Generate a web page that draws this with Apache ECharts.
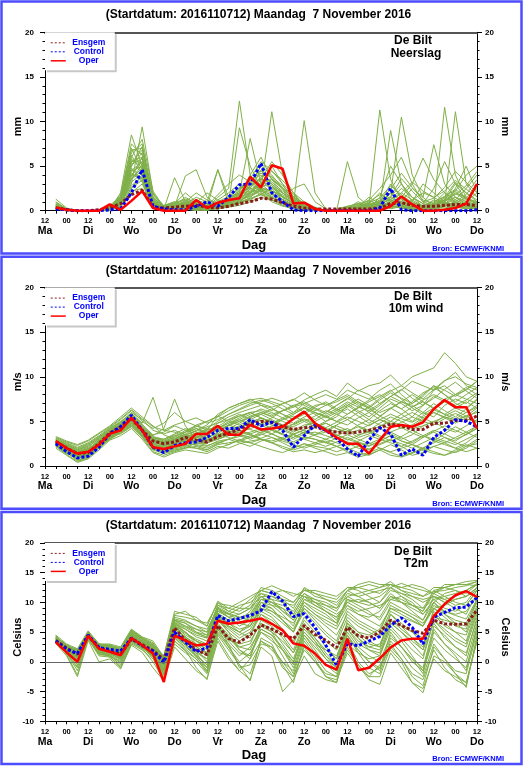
<!DOCTYPE html>
<html><head><meta charset="utf-8">
<script src="https://cdn.jsdelivr.net/npm/echarts@6/dist/echarts.min.js"></script>
<style>html,body{margin:0;padding:0;background:#fff}#c{width:526px;height:767px}</style>
</head><body><div id="c"></div>
<script>
// forecast hours after 2016-11-07 12 UTC
const HOURS = [6,12,18,24,30,36,42,48,54,60,66,72,78,84,90,96,102,108,114,120,126,132,138,144,150,156,162,168,174,180,186,192,198,204,210,216,222,228,234,240];
const DAY_NAMES = ['Ma','Di','Wo','Do','Vr','Za','Zo','Ma','Di','Wo','Do'];
const HOUR_LABELS = ['12','00'];
const TITLE = '(Startdatum: 2016110712) Maandag  7 November 2016';
const STATION = 'De Bilt';
const SOURCE = 'Bron: ECMWF/KNMI';
const X_NAME = 'Dag';
const LEGEND_NAMES = ['Ensgem','Control','Oper'];

// ---- Neerslag (mm) ----
const PRECIP_OPER    = [0.35,0.1,0,0,0,0.7,0.1,1.1,2.2,0.3, 0,0,0,1.2,0.3,0.9,1.2,1.4,3.8,2.6, 5.1,4.7,0.8,0.9,0.2,0,0,0,0,0, 0,0.5,1.6,0.7,0,0,0.1,0.3,0.8,3.0];
const PRECIP_CONTROL = [0.2,0.1,0,0,0,0.1,0.2,2.0,4.6,0.5, 0.2,0.1,0.1,0.5,1.0,0.5,1.5,2.9,3.0,5.3, 2.0,1.0,0.1,0,0,0,0,0,0,0, 0.3,2.5,0.1,0,0,0,0,0,0,0.1];
const PRECIP_ENSGEM  = [0.3,0.1,0,0,0.1,0.3,0.8,1.8,2.3,0.4, 0.3,0.4,0.5,0.6,0.4,0.3,0.5,0.8,1.0,1.4, 1.3,0.9,0.5,0.3,0.2,0.2,0.2,0.2,0.2,0.2, 0.3,0.8,0.9,0.6,0.5,0.5,0.6,0.7,0.7,0.6];
const PRECIP_MEMBERS = [
[0.3,0.1,0,0,0,0.4,1.5,5.5,6.0,1.0, 0.2,0.3,1.0,0.5,0.2,0.8,1.5,2.5,3.0,2.2, 1.5,0.8,0.3,0.2,0.1,0,0,0.2,0,0, 0.3,1.0,2.0,1.2,0.5,0.3,0.8,1.5,0.6,0.4],
[0.8,0.2,0,0,0.1,0.2,2.0,8.5,5.0,0.5, 0.1,0.2,0.3,0.1,0,0.5,1.0,1.8,4.0,6.0, 3.5,2.0,1.0,0.5,0,0,0,0,0.5,1.5, 0.8,0.2,0.5,1.0,3.0,2.0,1.0,0.5,0.2,0.5],
[0.2,0,0,0,0,0.1,0.8,3.0,9.4,2.0, 0.3,0.1,0.5,1.2,0.8,0.3,0.5,1.0,2.0,3.5, 5.5,4.0,2.0,0.5,0.2,0,0,0,0,0, 0.5,2.0,1.0,0.2,0,0,0.5,2.5,5.0,2.0],
[1.3,0.3,0,0,0,0.3,1.2,4.5,5.5,1.5, 0.5,0.8,2.0,1.0,0.5,1.2,2.0,3.0,2.5,1.8, 1.2,0.6,0.2,0.1,0,0,0.1,0.3,0.1,0, 0,0.5,1.5,3.0,5.9,3.5,2.0,1.0,0.5,0.8],
[0.5,0.1,0,0,0,0.5,1.0,6.5,7.5,1.2, 0.2,0.3,0.2,0,0.3,1.5,2.5,12.3,4.0,2.0, 1.0,0.5,0.3,0.2,0,0,0,0,0,0.3, 1.0,0.6,0.3,0.1,0,0.2,0.5,0.8,1.5,2.5],
[0.2,0,0,0,0,0,0.5,2.5,4.0,0.8, 0.2,0.5,3.9,4.6,1.5,0.6,0.4,1.2,2.5,4.5, 3.0,1.6,0.8,0.5,0.2,0,0,0.3,1.0,0.5, 0.2,1.2,2.5,1.5,0.8,0.5,1.5,3.2,2.0,1.0],
[0.6,0.2,0,0,0,0.2,1.8,7.0,4.5,0.6, 0.1,0.4,0.8,0.5,0.2,0.4,0.8,9.3,5.0,2.5, 11.1,4.0,1.5,0.5,0.1,0,0,0,0,0, 0.5,1.5,3.0,1.5,0.5,0.2,0.5,1.0,0.5,0.3],
[0.3,0.1,0,0,0,0.3,1.2,5.0,6.5,1.8, 0.6,1.0,0.5,0.2,0.1,0.3,0.5,0.8,1.5,2.5, 3.5,2.5,1.0,0.4,0.1,0,0.2,0.5,0.8,0.5, 11.3,3.5,1.2,0.5,0.2,0.8,2.0,1.2,0.6,0.4],
[0.4,0.1,0,0,0,0.1,0.6,3.5,4.5,0.5, 0.2,3.7,1.0,0.3,0.2,0.5,1.2,2.0,8.1,3.0, 2.0,1.0,0.5,0.2,0,0,0,0,0.2,0.5, 0.8,2.0,10.5,4.0,1.5,0.5,0.3,0.5,1.0,2.0],
[0.2,0,0,0,0,0.2,0.9,4.0,5.5,1.0, 0.1,0.2,0.3,0.5,1.0,4.6,0.8,1.5,2.0,2.5, 2.2,1.5,0.8,10.1,2.0,0.2,0,0,0,0, 0.3,0.8,0.5,0.2,0.1,0.5,1.0,2.0,1.5,0.8],
[1.0,0.2,0,0,0.1,0.6,1.6,6.0,8.0,2.2, 0.4,0.6,0.8,1.5,1.0,0.6,1.0,1.5,3.0,5.0, 4.0,2.5,1.5,0.6,0.3,0,0.1,0.4,0.2,0.1, 0.3,0.6,1.0,2.5,1.5,7.4,3.0,1.5,0.8,0.5],
[0.3,0,0,0,0,0.1,0.4,2.0,3.0,0.4, 0.1,0.2,0.1,0.2,0.5,0.2,0.5,0.8,1.2,2.0, 1.5,0.6,0.2,0.1,0,0,0,0,0,0.1, 0.2,0.5,0.3,0.1,0,0.1,0.2,0.5,0.3,0.2],
[0.5,0.1,0,0,0,0.4,1.4,5.8,4.8,0.8, 0.3,0.8,1.2,0.8,0.4,4.6,1.5,2.0,3.0,3.5, 2.5,1.2,0.6,0.3,0.1,0,0,0.5,0.3,0.2, 0.8,3.0,1.5,0.5,0.3,0.5,11.6,4.0,1.5,0.8],
[0.3,0.1,0,0,0,0.2,1.0,4.2,3.5,0.6, 0.2,0.3,0.4,0.6,0.3,0.6,1.0,1.8,2.2,2.8, 5.0,3.0,1.0,0.6,0.2,0,0,0,0.2,0.8, 2.0,1.0,0.5,0.2,0.1,0.3,0.8,11.1,3.0,1.5],
[0.7,0.2,0,0,0,0.3,1.1,3.8,6.0,1.4, 0.5,1.0,0.6,0.3,0.2,0.4,0.8,1.2,1.6,2.2, 1.8,1.2,2.5,3.0,1.0,0.2,0,5.5,1.5,0.5, 0.2,0.5,1.0,0.6,0.3,0.4,0.6,1.0,1.8,3.5],
[0.2,0.1,0,0,0,0.1,0.7,3.2,4.2,0.9, 0.2,0.4,0.6,0.3,0.1,0.3,0.6,1.0,1.4,1.8, 2.6,2.0,1.2,0.6,0.2,0,0,0,0,0, 0.2,0.6,0.4,0.2,0.5,1.2,0.8,0.4,0.3,0.2],
[0.4,0.1,0,0,0,0.5,1.3,5.2,5.8,1.5, 0.4,0.6,1.0,2.0,1.2,0.8,1.2,2.4,3.5,4.2, 3.8,2.8,1.6,0.8,0.3,0,0,0.2,0.6,1.2, 2.5,4.0,6.0,3.0,1.0,0.6,1.0,2.2,4.0,5.0],
[0.3,0,0,0,0,0.2,0.8,2.8,3.8,0.7, 0.2,0.5,0.3,0.1,0.1,0.2,0.4,0.6,1.0,1.5, 1.2,0.8,0.4,0.2,0,0,0,0,0,0.1, 0.3,0.8,0.5,0.3,0.2,0.4,0.6,0.4,0.2,0.4],
[0.9,0.2,0,0,0.1,0.4,1.5,6.8,7.0,1.6, 0.3,0.5,0.8,0.6,0.3,0.5,0.9,1.6,2.8,3.6, 3.0,2.0,1.2,0.5,0.2,0,0,0.3,0.8,0.4, 0.6,9.0,3.0,1.0,0.5,0.5,1.2,3.0,2.0,1.2],
[0.2,0,0,0,0,0.1,0.5,2.2,2.5,0.3, 0.1,0.1,0.2,0.3,0.2,0.3,0.5,0.9,1.3,1.8, 1.4,0.9,0.5,0.3,0.1,0,0,0,0.1,0.2, 0.4,0.6,0.8,0.5,0.3,0.4,0.5,0.7,0.5,0.3],
[0.4,0.1,0,0,0,0.2,0.9,4.8,3.2,0.4, 0.2,0.6,1.5,0.8,0.5,1.8,3.0,4.0,3.2,2.4, 1.6,1.0,0.6,0.3,0.1,0,0,0,0,0.3, 1.5,5.0,3.0,1.5,0.8,2.5,5.5,3.0,1.2,0.8],
[0.6,0.1,0,0,0,0.3,1.0,3.5,5.2,1.1, 0.3,0.4,0.5,0.4,0.3,0.5,0.6,1.0,1.9,3.2, 2.8,1.5,0.9,0.4,0.1,0,0,0.2,0.4,0.8, 0.5,0.3,0.6,1.2,2.0,1.5,0.8,1.2,2.5,4.0],
[0.3,0.1,0,0,0,0.3,1.1,4.6,4.0,0.7, 0.2,0.3,0.7,1.0,0.6,0.7,1.1,1.4,2.0,2.6, 2.2,1.8,1.0,0.5,0.1,0,0,0.1,0.3,0.6, 1.0,1.5,0.8,0.4,0.6,1.0,1.6,0.9,0.5,0.3],
[0.5,0.1,0,0,0,0.4,1.3,5.4,6.8,1.3, 0.4,0.7,0.9,0.7,0.4,0.6,1.3,2.2,3.6,5.5, 4.5,3.0,1.8,0.7,0.3,0,0,0,0.4,1.0, 1.8,1.2,0.6,0.3,0.2,0.6,1.4,2.2,1.0,0.6],
[0.4,0.1,0,0,0,0.3,1.0,4.4,5.0,0.9, 0.3,0.5,0.8,1.0,0.6,1.0,1.6,2.6,3.4,4.0, 3.2,2.2,1.3,0.6,0.2,0,0,0.2,0.5,0.9, 1.4,2.8,1.8,0.9,0.5,0.8,1.6,2.4,1.4,1.0],
[0.6,0.1,0,0,0,0.2,1.2,6.2,4.2,0.5, 0.2,0.3,0.6,0.9,2.0,1.2,0.9,1.6,2.4,3.0, 3.6,2.6,1.4,0.9,0.3,0,0,0,0.2,0.4, 0.9,1.6,3.6,2.2,1.0,1.4,2.6,4.4,3.2,2.0],
[0.3,0,0,0,0,0.1,0.5,2.6,3.4,0.6, 0.1,0.2,0.3,0.4,0.3,0.4,0.7,1.1,1.7,2.3, 2.0,1.3,0.7,0.3,0.1,0,0,0,0.1,0.3, 0.6,1.0,0.7,0.4,0.3,0.6,0.9,0.6,0.4,0.5],
[0.5,0.1,0,0,0,0.4,1.6,7.5,6.2,1.2, 0.3,0.6,1.1,0.7,0.4,0.9,1.4,2.0,2.6,3.8, 4.4,3.4,2.0,1.0,0.4,0,0,0.1,0.3,0.6, 1.2,2.4,4.2,2.6,1.2,0.8,1.2,1.8,2.8,4.4],
[0.2,0,0,0,0,0.2,0.7,3.6,4.8,0.8, 0.2,0.4,0.5,0.3,0.2,0.5,0.8,1.3,1.8,2.4, 2.2,1.6,0.8,0.4,0.1,0,0,0,0,0.2, 0.5,0.9,1.4,0.8,0.4,0.3,0.5,0.9,0.6,0.4],
[0.7,0.2,0,0,0,0.3,1.3,5.0,7.2,1.9, 0.5,0.9,1.3,1.0,0.6,0.8,1.2,1.9,3.2,4.6, 3.6,2.4,1.2,0.5,0.2,0,0,0.3,0.7,1.1, 0.7,1.3,2.0,3.2,2.2,1.5,2.2,3.4,2.4,1.6],
[0.4,0.1,0,0,0,0.3,0.9,4.0,3.6,0.6, 0.2,0.4,0.6,0.5,0.4,0.6,1.0,1.5,2.1,3.0, 2.6,1.6,0.9,0.4,0.1,0,0,0.1,0.2,0.5, 0.8,1.2,0.9,0.6,0.4,0.7,1.1,1.5,1.0,0.7],
[0.3,0.1,0,0,0,0.2,1.1,5.6,5.4,1.1, 0.3,0.5,0.7,0.5,0.3,0.5,0.9,1.7,2.6,3.6, 3.0,2.0,1.1,0.5,0.2,0,0,0.2,0.4,0.7, 1.1,1.9,1.3,0.7,0.4,0.6,1.2,1.9,1.3,0.9]
];

// ---- 10m wind (m/s) ----
const WIND_OPER    = [2.8,2.0,1.4,1.6,2.4,3.6,4.0,5.4,4.0,2.1, 1.9,2.2,2.5,3.6,3.6,4.5,3.5,3.5,4.6,4.1, 4.2,4.4,5.3,6.1,4.8,4.0,3.2,2.5,2.5,1.4, 2.9,4.4,4.6,4.4,4.9,6.4,7.4,6.6,6.6,4.2];
const WIND_CONTROL = [2.5,1.6,0.9,1.1,2.1,3.6,4.4,5.7,4.0,2.1, 1.5,2.3,2.6,2.7,3.2,4.0,4.2,4.2,5.2,4.5, 4.9,4.0,2.1,3.4,4.6,4.0,3.1,1.9,1.1,2.9, 4.3,3.6,1.2,1.9,1.2,3.2,4.0,5.2,5.0,4.4];
const WIND_ENSGEM  = [2.7,2.0,1.4,1.5,2.5,3.7,4.4,5.3,4.0,2.8, 2.5,2.7,3.2,2.9,2.7,3.3,3.7,4.1,4.7,5.0, 4.9,4.4,4.1,4.3,4.4,4.0,3.8,3.7,3.8,4.0, 4.3,4.7,4.5,4.1,4.1,4.8,4.8,5.1,5.1,5.6];
const WIND_MEMBERS = [
[2.6,2.0,1.4,1.6,2.5,3.6,4.3,5.2,4.2,3.0, 2.6,2.9,3.4,3.0,2.8,3.5,4.0,4.4,5.0,5.3, 5.0,4.5,4.0,4.6,4.8,4.2,3.8,4.2,3.5,3.8, 4.5,5.0,4.6,4.2,4.5,5.0,5.5,5.2,5.6,6.0],
[2.9,2.3,1.8,2.2,3.0,4.0,4.8,5.8,4.6,3.5, 3.8,4.5,4.0,3.6,3.8,4.8,5.5,6.0,6.4,6.8, 6.5,5.8,5.2,6.0,6.8,7.0,6.2,6.8,7.5,6.8, 6.0,6.5,7.2,6.8,6.0,5.5,6.8,7.5,7.0,8.0],
[2.3,1.5,0.8,1.2,2.0,3.2,4.0,5.0,3.6,2.2, 1.8,2.2,2.5,2.4,2.2,2.8,3.0,3.5,3.8,4.2, 3.6,3.0,2.5,3.2,3.0,2.6,2.2,2.6,2.0,1.8, 2.5,3.0,2.2,1.5,2.0,2.8,2.4,2.0,2.6,3.5],
[2.7,1.9,1.2,1.5,2.8,3.9,4.6,5.6,4.4,2.8, 2.2,3.0,3.8,4.2,3.6,4.2,5.0,5.6,6.0,5.4, 4.8,5.2,5.8,6.5,5.8,5.0,5.5,6.8,6.0,5.2, 6.2,7.0,6.4,5.5,6.8,8.5,9.0,8.0,7.5,7.0],
[2.5,1.7,1.0,1.3,2.3,3.4,4.1,5.1,3.8,2.5, 2.0,2.5,2.8,3.2,3.0,3.0,3.5,3.8,4.2,4.6, 4.0,3.5,3.0,3.6,3.8,3.4,3.0,3.5,3.0,2.5, 3.0,3.8,3.2,2.6,3.4,4.0,3.6,3.0,3.5,4.5],
[3.1,2.6,2.1,2.6,3.4,4.3,5.2,6.2,5.0,4.2, 4.8,6.0,5.0,4.5,4.0,5.6,6.5,7.0,7.4,7.6, 7.2,6.8,6.0,7.0,7.5,8.0,7.5,8.5,8.0,7.5, 8.5,9.2,8.0,7.0,8.0,9.0,8.0,7.0,6.5,7.5],
[2.4,1.6,0.6,1.0,2.1,3.0,3.8,4.6,3.4,2.0, 1.5,1.8,2.0,2.2,1.8,2.4,2.6,2.8,3.2,3.6, 3.2,2.6,2.0,2.5,2.2,2.0,1.6,2.0,1.5,1.2, 1.8,2.4,1.8,1.2,1.5,2.2,1.8,1.5,2.0,2.8],
[2.8,2.2,1.6,2.0,2.7,3.8,4.5,5.5,4.3,3.2, 3.0,3.5,3.0,2.6,2.5,3.8,4.6,5.0,5.4,6.0, 5.6,6.2,6.8,7.2,6.5,6.0,6.8,7.5,8.5,8.0, 7.0,7.8,8.5,9.5,9.0,8.5,9.5,10.5,9.0,8.5],
[2.2,1.4,1.0,1.4,2.2,3.3,3.6,4.4,3.2,1.6, 1.2,1.6,2.0,2.6,2.9,3.3,3.8,4.0,3.6,3.0, 2.8,3.2,3.6,4.0,3.5,3.8,4.5,4.0,3.2,3.6, 4.2,3.6,3.0,3.5,4.5,5.0,4.2,3.8,4.5,5.2],
[2.6,2.1,1.5,1.8,2.6,3.7,4.4,5.4,4.0,2.7, 2.4,2.8,3.2,3.6,4.0,4.5,4.2,4.8,5.5,5.8, 5.2,4.6,4.4,5.0,5.6,6.2,5.8,5.2,6.0,6.6, 5.6,5.0,5.8,6.6,7.2,6.5,5.8,6.5,7.2,6.5],
[2.9,2.4,1.9,2.4,3.2,4.1,4.9,6.0,5.2,4.0, 3.6,4.0,3.5,3.2,3.4,4.2,4.8,5.2,5.8,6.4, 6.0,5.4,4.8,5.5,6.0,5.5,5.0,5.8,6.5,7.2, 7.8,8.5,7.5,6.5,5.8,6.5,7.5,8.0,8.5,9.5],
[2.4,1.8,1.1,1.3,2.4,3.5,4.2,5.2,3.9,2.4, 2.0,2.6,3.0,2.8,2.6,3.2,3.6,3.4,3.0,3.5, 4.0,3.6,3.2,3.8,3.4,3.0,3.5,3.0,2.6,2.2, 2.8,3.4,2.8,2.4,3.2,3.8,3.2,2.8,3.6,4.2],
[2.7,2.0,1.3,1.7,2.6,3.6,4.5,5.3,4.1,3.4, 4.2,7.5,4.5,3.0,2.5,3.6,4.5,5.0,5.6,6.0, 5.5,5.0,4.6,5.2,4.6,4.0,4.6,5.2,4.5,4.0, 4.8,5.5,5.0,4.4,5.2,6.0,5.4,4.8,5.4,6.2],
[2.5,1.9,1.4,1.9,2.9,3.9,4.7,5.7,4.5,3.2, 2.8,3.2,4.0,4.5,4.2,5.0,5.8,6.4,7.0,7.4, 7.0,6.4,5.8,6.5,6.0,5.6,6.2,7.0,6.2,5.5, 6.5,7.5,7.0,6.2,6.8,7.8,7.2,6.5,6.0,6.6],
[3.0,2.5,2.0,2.5,3.3,4.2,5.0,5.9,4.8,7.7, 4.0,3.8,3.2,3.0,2.6,3.0,3.4,3.8,4.4,4.8, 4.2,3.6,3.2,3.8,4.4,4.8,4.2,3.6,4.0,4.6, 5.2,4.8,4.2,4.6,5.4,6.0,5.5,5.0,5.6,6.5],
[2.3,1.6,0.9,1.1,2.2,3.1,3.9,4.8,3.5,2.1, 1.7,2.0,2.4,2.8,3.2,3.6,3.2,2.8,2.6,3.0, 2.6,2.2,1.8,2.2,2.6,3.0,2.6,2.2,2.8,3.4, 3.0,2.6,2.2,2.8,3.4,3.0,2.6,3.2,3.8,4.5],
[2.8,2.3,1.7,2.1,3.1,4.0,4.7,5.6,4.4,3.1, 2.9,3.4,3.8,4.6,5.0,5.5,6.2,6.8,7.2,7.0, 6.6,7.0,7.4,8.2,7.4,6.8,7.2,7.8,7.0,6.5, 7.4,8.2,7.6,7.0,7.8,9.0,8.5,7.8,8.6,9.5],
[2.6,1.8,1.2,1.4,2.4,3.5,4.3,5.3,4.0,2.6, 2.3,2.6,2.9,3.3,3.6,4.0,4.6,4.2,4.8,5.4, 5.0,4.4,3.8,4.4,5.0,5.6,5.0,4.6,5.4,6.0, 5.2,4.6,5.4,6.0,5.4,4.8,5.6,6.2,5.6,5.0],
[2.2,1.3,0.5,0.9,2.0,3.0,3.7,4.5,3.3,1.8, 1.4,1.7,2.1,2.0,1.6,2.2,2.0,2.5,2.8,3.0, 2.6,2.0,1.6,1.8,1.5,1.8,2.2,1.6,1.2,1.5, 2.0,1.5,1.1,1.5,1.8,1.4,1.2,1.6,2.2,2.5],
[2.9,2.2,1.5,1.9,2.8,3.8,4.6,5.5,4.2,2.9, 2.6,3.1,3.5,3.9,4.4,4.8,5.2,5.6,6.0,6.2, 5.8,6.2,6.6,7.0,6.4,5.8,6.4,7.2,6.6,6.2, 7.0,7.8,7.2,6.6,7.4,8.0,7.4,6.8,7.4,8.2],
[2.5,1.7,1.1,1.6,2.5,3.6,4.2,5.1,3.7,2.3, 1.9,2.4,2.6,2.3,2.0,2.6,3.0,3.3,3.6,4.0, 3.6,3.1,2.7,3.3,3.0,2.6,3.1,2.7,2.3,1.9, 2.4,2.9,2.5,2.0,2.6,3.2,2.8,2.4,3.0,3.6],
[3.2,2.7,2.3,2.8,3.6,4.4,5.3,6.3,5.3,4.4, 4.0,4.6,5.0,5.4,4.8,5.2,5.8,6.3,6.8,7.2, 7.6,7.2,6.6,7.4,8.0,8.5,7.8,9.3,8.4,9.0, 9.3,10.2,9.0,10.0,10.5,11.0,12.7,11.5,10.0,9.5],
[2.4,1.9,1.3,1.8,2.7,3.7,4.4,5.3,4.1,2.8, 2.4,2.7,3.1,3.4,3.0,3.4,4.0,4.5,4.1,3.7, 4.2,4.6,4.1,3.7,4.3,4.8,4.2,3.8,4.6,5.2, 4.6,4.2,4.9,5.5,5.0,4.6,5.3,5.9,5.3,4.9],
[2.7,2.1,1.5,1.7,2.6,3.7,4.4,5.4,4.1,2.8, 2.5,2.9,3.3,3.7,4.1,4.3,3.8,4.3,4.9,5.1, 4.6,4.1,4.7,5.3,4.8,4.3,4.9,5.5,5.0,4.5, 5.2,5.8,5.3,4.9,5.6,6.3,5.8,5.3,6.0,6.8],
[2.0,1.2,0.4,0.8,1.8,2.9,3.4,4.2,3.0,1.5, 1.0,1.5,1.8,1.6,1.4,2.0,2.4,3.0,2.6,2.2, 1.8,1.5,2.0,2.5,2.0,1.6,1.2,1.5,1.0,1.3, 1.8,1.2,1.0,1.4,2.0,1.6,1.2,1.8,2.4,2.0],
[3.3,2.8,2.4,2.9,3.7,4.5,5.5,6.5,5.5,4.5, 3.5,3.0,3.4,4.0,4.6,5.8,6.5,7.0,7.5,6.8, 6.2,7.0,7.5,6.8,6.2,6.8,7.4,8.0,7.2,6.6, 7.6,8.4,9.0,8.2,7.5,8.6,9.6,10.0,9.2,8.8],
[2.6,1.9,1.1,1.5,2.3,3.5,4.2,5.1,3.9,2.4, 2.2,2.6,3.2,3.6,3.2,3.8,4.6,5.2,4.6,4.0, 4.5,5.2,5.6,5.0,4.4,5.0,5.8,6.4,5.6,4.8, 5.5,6.5,5.8,5.0,6.0,7.0,6.2,5.5,6.4,7.4],
[2.4,1.5,0.7,1.0,2.0,3.2,3.9,4.8,3.4,1.9, 1.6,2.1,2.3,2.0,1.8,2.5,3.0,2.6,2.2,2.8, 3.2,2.8,2.4,2.0,2.4,2.8,2.2,1.8,2.2,2.6, 2.0,1.6,2.0,2.4,1.8,2.2,2.6,2.0,1.6,2.0],
[2.8,2.1,1.4,1.8,2.7,3.8,4.5,5.4,4.2,3.0, 2.7,3.3,3.8,4.4,5.0,5.6,5.0,4.6,5.2,5.8, 6.4,5.8,5.2,5.8,6.6,7.2,6.4,5.8,6.6,7.4, 8.0,7.2,6.4,7.2,8.2,8.8,8.0,7.2,8.0,8.8],
[2.5,1.8,1.2,1.5,2.4,3.4,4.0,4.9,3.6,2.5, 2.1,2.4,2.9,3.2,2.8,3.3,3.9,3.5,3.2,3.8, 4.4,4.0,3.5,4.1,4.6,4.0,3.4,3.9,4.4,3.8, 3.2,3.8,4.3,3.7,3.2,3.9,4.5,4.0,3.5,4.2],
[2.9,2.4,1.8,2.3,3.2,4.2,4.9,5.9,4.7,3.3, 3.0,3.6,4.2,3.8,3.4,4.4,5.2,5.8,5.2,4.6, 5.4,6.2,6.8,6.0,5.2,6.0,6.8,7.6,6.8,6.0, 6.8,7.8,8.6,7.6,6.8,7.6,8.6,9.4,8.4,7.6],
[2.3,1.7,1.0,1.2,2.2,3.3,3.9,4.7,3.5,2.2, 1.8,2.2,2.7,3.0,2.6,3.0,3.5,4.0,3.5,3.1, 3.6,4.2,3.6,3.0,3.5,4.1,3.5,2.9,3.4,4.0, 3.4,2.8,3.3,4.0,3.4,2.8,3.6,4.4,3.8,3.2],
[2.7,2.2,1.6,1.9,2.9,3.9,4.6,5.5,4.3,3.0, 2.7,3.0,3.6,4.2,3.8,4.2,4.8,5.4,6.0,5.4, 4.8,5.4,6.0,6.6,6.0,5.4,6.0,6.6,7.2,6.4, 5.6,6.4,7.2,8.0,7.2,6.4,7.2,8.0,8.8,8.0],
[2.2,1.5,0.9,1.3,2.1,3.1,3.7,4.5,3.3,2.0, 1.6,1.9,2.2,2.6,2.3,2.7,2.4,2.9,3.4,3.0, 2.6,3.0,3.5,3.0,2.6,2.2,2.7,3.2,2.7,2.3, 2.8,3.4,2.8,2.4,2.0,2.6,3.2,2.6,2.2,3.0]
];

// ---- T2m (Celsius) ----
const TEMP_OPER    = [3.3,1.6,0,4.4,2.2,1.7,1.1,4.0,2.8,1.4, -3.4,4.4,3.6,2.75,3.0,6.9,6.4,6.6,6.9,7.3, 6.4,5.3,3.1,2.7,1.4,-0.5,-1.3,3.9,-1.4,-1.0, 0.6,2.4,3.6,3.9,3.9,7.7,9.7,11.2,11.9,10.9];
const TEMP_CONTROL = [3.5,2.1,1.4,4.5,2.4,2.1,1.8,4.0,2.7,1.8, -0.1,5.0,3.3,1.7,2.4,7.8,6.9,7.3,7.8,8.6, 11.8,10.2,7.6,8.1,5.8,2.8,-0.6,3.1,2.7,3.5, 4.3,6.1,7.4,5.8,3.0,7.5,8.3,9.1,9.2,10.8];
const TEMP_ENSGEM  = [3.6,2.3,1.3,4.3,2.4,1.8,1.3,3.8,2.9,1.9, 0.4,5.7,3.6,2.0,1.2,6.1,3.9,3.3,4.5,6.2, 5.5,4.6,3.9,6.1,4.6,3.6,2.4,5.8,4.4,4.0, 5.0,7.0,6.1,5.3,4.8,7.0,6.4,6.3,6.4,8.7];
const TEMP_MEMBERS = [
[3.8,2.4,1.6,4.6,2.8,2.2,1.4,4.4,3.2,2.0, 0.2,5.8,4.2,3.0,2.2,7.8,7.0,6.5,6.0,9.5, 8.5,7.0,5.5,9.0,7.5,6.0,4.5,8.0,6.5,5.5, 4.5,8.5,7.5,6.8,6.0,9.5,8.5,7.8,7.2,10.5],
[4.2,2.8,2.0,5.0,3.0,2.8,2.2,5.2,4.0,3.0, 1.0,8.5,8.0,7.5,6.0,10.2,9.0,8.5,9.5,12.5, 12.0,11.0,10.0,12.3,11.0,10.5,9.5,12.0,12.5,12.0, 11.5,13.0,12.5,12.0,11.0,11.8,12.0,12.5,12.8,13.5],
[3.5,2.2,0.8,4.4,2.0,1.5,0.5,4.2,3.0,1.5, -0.5,6.5,5.0,3.5,2.5,8.5,8.0,9.0,10.5,12.0, 12.8,12.0,11.5,11.0,9.5,8.5,7.0,10.5,10.0,10.5, 11.0,12.5,13.2,12.5,12.0,11.5,12.5,13.0,13.0,12.8],
[3.0,1.5,-1.5,3.8,1.0,0.8,-0.8,3.0,2.0,0.5, -2.5,3.0,1.5,0.0,-2.0,4.0,1.0,-1.5,0.5,3.5, 2.0,0.0,-2.5,2.0,0.0,-2.5,-3.0,1.5,-1.0,-2.5, -0.5,2.0,0.0,-3.5,-4.5,0.5,-1.5,-2.5,-3.5,3.5],
[3.2,1.8,-0.5,4.0,1.5,1.2,0.2,3.5,2.5,1.0, -1.5,4.0,2.5,1.0,-0.5,5.0,3.0,1.0,2.5,5.5, 4.5,2.0,-1.0,4.5,2.0,-0.5,-1.5,4.5,1.5,0.5, 1.0,5.5,3.5,1.0,-1.5,4.0,2.0,0.5,-1.0,5.5],
[4.5,3.0,2.2,5.2,3.0,3.0,2.5,5.5,4.2,3.5, 0.8,6.5,5.5,4.5,4.0,8.0,6.0,5.0,6.5,10.0, 9.0,7.0,5.0,9.5,8.0,6.5,5.5,9.0,8.0,7.5, 8.5,11.0,10.0,9.0,8.0,10.5,9.0,8.5,9.5,12.0],
[3.6,2.0,0.5,4.6,2.5,1.8,1.0,4.0,2.8,1.2, -1.0,5.0,3.8,2.2,1.0,7.0,5.5,4.0,5.0,8.0, 6.5,4.5,2.0,6.5,4.0,2.0,0.5,6.0,4.5,3.0, 2.5,7.0,5.5,4.0,2.5,8.0,6.0,5.0,3.5,9.0],
[3.3,2.5,1.8,4.8,2.6,2.5,2.0,4.6,3.5,2.5, 0.5,7.0,6.0,5.5,5.0,9.5,8.5,9.5,10.0,11.5, 10.5,8.5,7.0,10.0,9.0,8.0,6.5,11.0,11.5,12.0, 12.5,13.5,12.0,11.0,10.0,11.0,10.0,9.0,8.0,11.5],
[4.0,1.2,-2.2,4.2,1.8,0.8,-1.0,3.2,2.2,0.0, -3.0,3.5,2.0,-1.0,-3.0,4.5,2.0,-0.5,-3.2,4.0, 3.0,-0.5,-3.5,3.0,0.5,-2.5,-3.5,3.5,0.0,-2.0, -1.0,3.0,0.5,-2.0,-3.0,2.0,-1.0,-3.0,-4.0,4.0],
[3.7,2.6,1.2,4.5,2.2,2.0,1.5,4.8,3.4,2.2, -0.5,6.0,4.5,3.5,2.8,8.8,7.5,8.0,9.0,11.0, 9.5,8.0,6.0,10.5,10.0,9.0,8.0,9.5,8.5,9.0, 9.5,10.5,11.0,10.0,8.0,10.0,11.5,12.0,11.5,13.0],
[3.4,1.6,0.0,4.3,2.0,1.0,0.0,3.8,2.6,1.5, -2.0,4.5,3.0,1.5,0.5,6.0,4.0,3.0,3.5,6.5, 5.5,3.0,0.5,5.5,3.5,1.0,-1.0,5.0,2.5,1.0, 0.0,4.5,2.5,0.5,-1.0,6.0,4.5,2.5,1.5,7.0],
[4.0,2.9,1.5,4.9,2.9,2.6,1.8,5.0,3.8,2.8, 0.0,7.5,7.0,6.0,5.5,9.0,8.0,7.5,8.0,10.5, 10.0,9.5,8.5,11.5,10.5,10.0,9.0,12.0,11.0,10.0, 9.0,11.5,10.0,8.5,7.0,11.0,10.5,11.0,12.0,13.0],
[3.1,1.0,-2.5,3.6,0.0,0.5,-1.2,2.8,1.6,-1.0, -3.2,2.5,0.5,-1.5,-2.8,3.5,0.5,-1.5,-3.0,2.5, 1.0,-5.0,-3.0,1.0,-2.0,-3.0,-3.5,2.5,-0.5,-3.0, -3.8,1.5,-1.0,-3.5,-5.2,1.0,0.0,-2.0,-4.3,4.5],
[3.9,2.3,1.0,4.4,2.4,1.6,1.2,4.3,3.0,1.8, 0.0,6.0,5.0,3.0,1.5,7.5,6.0,5.0,6.0,9.0, 8.0,6.5,5.0,8.5,6.5,4.5,3.0,7.5,6.0,5.0, 4.0,8.0,6.5,5.0,3.0,7.5,7.0,6.5,6.0,10.0],
[3.5,2.1,1.8,4.7,2.3,2.4,1.9,4.5,3.3,2.0, -0.2,5.5,4.0,2.5,1.5,7.0,5.0,3.5,4.5,8.0, 7.0,5.5,3.5,7.5,5.5,3.5,2.0,6.5,5.0,4.5, 5.5,9.0,8.0,7.0,6.0,9.0,8.0,7.0,6.5,10.5],
[4.3,2.7,2.1,5.1,2.7,2.7,2.4,5.4,4.1,3.2, 0.6,7.0,6.5,5.0,4.5,9.5,9.0,10.0,11.0,12.0, 11.5,10.5,9.0,12.5,11.5,11.0,10.5,12.5,12.0,11.0, 10.0,12.5,11.5,10.5,9.0,10.5,11.0,11.5,12.0,13.2],
[3.3,1.4,-1.0,4.0,1.2,1.0,-0.5,3.4,2.3,0.8, -2.0,3.5,1.8,0.5,-1.5,5.5,3.5,1.5,1.0,5.0, 4.0,1.0,-2.0,3.5,1.0,-1.5,-2.5,3.0,1.5,-1.0, -2.0,3.5,1.5,-1.0,-2.5,3.0,0.5,-1.5,-2.0,5.0],
[3.8,2.2,1.3,4.5,2.6,2.3,1.6,4.6,3.2,2.3, 0.3,6.3,5.5,4.2,3.5,8.2,7.0,6.5,7.5,10.5, 10.0,9.0,7.0,10.0,8.5,7.5,6.5,9.5,8.0,7.0, 6.0,9.0,8.5,7.5,6.5,9.0,9.5,10.5,11.0,12.5],
[3.6,1.9,0.2,4.2,1.6,1.3,0.8,4.0,2.9,1.3, -1.2,4.8,3.5,2.0,0.0,6.5,4.5,2.5,3.0,7.0, 6.0,4.0,1.5,6.0,4.0,1.5,-0.5,5.5,3.0,2.0, 1.5,6.0,4.0,2.0,0.5,7.0,5.0,3.5,2.5,8.0],
[4.1,2.5,1.4,4.9,2.9,2.2,1.7,4.9,3.6,2.4, 0.0,6.8,6.0,5.0,4.0,9.0,8.0,7.0,8.5,11.5, 11.0,10.0,8.0,11.0,10.0,9.5,8.5,11.5,11.0,11.5, 12.0,12.5,11.0,9.5,8.5,12.0,12.5,12.0,11.0,12.0],
[3.4,2.0,0.8,4.4,2.2,1.7,0.6,3.9,2.7,1.6, -1.0,5.2,3.2,1.0,-1.5,5.5,2.5,0.0,1.5,5.0, 3.5,2.0,0.0,5.0,3.0,0.5,-1.0,6.0,4.0,2.5, 2.0,6.5,5.0,3.5,2.0,6.5,4.0,2.5,1.0,7.5],
[3.9,2.7,1.9,4.7,2.5,2.3,1.3,4.4,3.1,2.1, -0.3,5.7,4.8,3.8,3.0,7.5,6.5,5.5,6.0,9.0, 8.5,7.5,6.5,9.5,8.0,7.0,6.0,10.5,9.5,8.5, 7.0,10.0,9.0,8.0,7.0,10.0,8.5,8.0,8.5,11.0],
[3.7,1.8,0.0,4.3,1.4,1.9,1.0,4.1,2.5,0.8, -1.8,4.2,2.8,0.8,-1.0,6.0,3.0,-1.0,-0.5,3.0, 2.5,0.0,-1.5,4.0,1.5,-0.5,-2.0,4.5,2.0,0.0, -1.5,5.0,2.5,0.0,-1.5,5.5,3.0,1.5,0.0,6.5],
[4.4,2.4,1.7,4.8,2.8,2.9,2.0,5.3,3.9,2.6, 0.9,8.0,8.5,7.0,6.0,10.0,8.5,8.0,9.0,12.0, 11.5,12.0,11.0,12.0,11.5,10.5,10.0,12.0,13.0,13.5, 13.0,13.0,12.5,13.0,12.5,11.5,13.0,13.0,13.5,13.7],
[3.6,2.0,0.6,4.4,2.1,1.5,0.6,4.1,2.8,1.2, -1.5,6.0,4.0,1.5,-1.0,7.5,5.0,2.0,0.5,6.5, 5.0,2.0,-0.5,6.0,3.5,1.0,-0.5,7.0,5.0,3.5, 2.5,8.0,6.0,4.0,2.0,9.0,7.5,6.0,5.5,10.5],
[4.0,2.6,1.6,4.7,2.7,2.4,1.8,4.7,3.5,2.4, 0.0,7.0,6.5,5.5,4.5,9.0,7.5,6.0,7.0,10.5, 10.5,10.0,9.5,11.5,10.0,8.5,7.5,10.0,9.0,8.0, 7.5,10.5,10.0,9.5,9.0,12.0,11.0,10.0,9.5,12.0],
[3.2,1.6,-0.8,3.9,1.3,1.1,-0.2,3.6,2.4,0.8, -2.2,4.0,2.2,0.5,-1.8,4.8,2.5,-0.5,-2.0,3.5, 2.5,-1.0,-2.5,2.5,0.0,-2.0,-2.5,2.0,-0.5,-2.5, -2.5,2.5,0.5,-2.5,-4.0,2.5,0.5,-2.0,-3.5,3.5],
[3.8,2.3,1.1,4.6,2.4,2.0,1.3,4.5,3.1,1.9, -0.6,6.2,5.0,3.5,2.0,8.0,6.5,5.0,4.0,9.5, 9.0,7.0,5.0,9.0,7.0,5.0,3.5,8.5,7.0,6.0, 5.0,9.5,8.5,7.5,6.0,10.0,8.0,6.5,5.0,9.5],
[3.5,2.0,1.0,4.3,2.3,1.9,1.4,4.2,2.9,1.7, -0.8,5.5,4.2,2.6,1.2,7.2,5.8,4.5,5.5,8.5, 7.5,5.5,3.0,7.0,5.0,2.5,0.5,6.5,4.0,2.0, 1.0,6.5,5.0,3.0,1.0,7.0,5.5,4.0,3.0,8.5],
[4.2,2.8,1.9,5.0,3.0,2.6,2.1,5.1,3.9,2.9, 0.7,7.8,7.5,7.0,6.5,9.8,9.5,9.0,9.0,11.0, 11.0,10.5,10.0,12.0,12.0,11.5,11.0,12.5,12.5,13.0, 12.5,13.0,12.0,11.5,11.0,12.5,12.5,13.0,13.0,13.5],
[3.4,1.7,0.3,4.2,1.9,1.4,0.4,3.9,2.6,1.1, -1.6,4.6,3.0,1.2,-0.5,6.2,4.2,2.0,1.0,5.5, 4.5,2.5,0.0,4.5,2.5,0.5,-1.5,4.0,2.0,0.0, -1.0,4.0,2.5,0.5,-2.0,5.0,3.0,1.0,-1.5,6.0],
[3.9,2.5,1.5,4.8,2.8,2.5,1.9,4.8,3.6,2.5, 0.2,6.6,5.8,4.8,4.2,8.5,7.5,7.0,8.0,11.0, 10.0,8.5,7.5,10.5,9.5,8.5,7.5,10.0,10.5,10.0, 9.0,11.0,10.5,9.5,8.5,11.5,10.5,9.5,10.0,12.5],
[3.3,1.9,0.4,4.1,1.8,1.6,0.7,3.7,2.4,1.0, -1.4,4.4,2.9,1.8,0.5,5.8,3.8,2.5,2.0,6.0, 5.0,3.5,1.5,5.0,3.0,2.0,1.0,5.5,3.5,2.5, 3.0,7.0,6.0,5.0,4.0,8.5,6.5,5.0,4.5,9.0],
[4.1,2.6,1.8,4.9,2.8,2.7,2.2,5.2,3.8,2.7, 0.4,7.2,6.8,6.0,5.0,9.2,8.2,7.5,7.0,10.0, 9.5,9.0,8.0,11.0,10.5,9.5,9.0,11.0,10.0,9.5, 10.0,12.0,11.5,11.0,10.5,11.0,10.0,10.5,11.0,12.5]
];

const FONT = '"Liberation Sans", Arial, Helvetica, sans-serif';
const PANEL_H = 255.3;
const PANELS = [
  {unit:'mm', label:'Neerslag', min:0, max:20, members:PRECIP_MEMBERS, ens:PRECIP_ENSGEM, ctl:PRECIP_CONTROL, oper:PRECIP_OPER},
  {unit:'m/s', label:'10m wind', min:0, max:20, members:WIND_MEMBERS, ens:WIND_ENSGEM, ctl:WIND_CONTROL, oper:WIND_OPER},
  {unit:'Celsius', label:'T2m', min:-10, max:20, members:TEMP_MEMBERS, ens:TEMP_ENSGEM, ctl:TEMP_CONTROL, oper:TEMP_OPER}
];

const C_MEMBER = '#80b04a', C_ENS = '#8b1c1c', C_CTL = '#0000ff', C_OPER = '#ff0000', C_FRAME = '#4d4dff';

function fmtX(v) {
  const i = Math.round(v / 12);
  if (i % 2 === 0) return '{t|' + HOUR_LABELS[0] + '}\n{d|' + DAY_NAMES[i / 2] + '}';
  return '{t|' + HOUR_LABELS[1] + '}';
}
const toPairs = arr => HOURS.map((h, i) => [h, arr[i]]);

const grid = [], xAxis = [], yAxis = [], series = [], legend = [], graphic = [];
PANELS.forEach((p, k) => {
  const y0 = k * PANEL_H;
  grid.push({left: 45, width: 432, top: y0 + 32.3, height: 178.4, containLabel: false, outerBoundsMode: 'none'});
  xAxis.push({
    gridIndex: k, type: 'value', min: 0, max: 240, interval: 12, position: 'bottom',
    axisLine: {show: true, onZero: false, lineStyle: {color: '#000', width: 1}},
    axisTick: {show: true, length: 3, lineStyle: {color: '#000'}},
    minorTick: {show: true, splitNumber: 2, length: 3, lineStyle: {color: '#000'}},
    splitLine: {show: false}, minorSplitLine: {show: false},
    axisLabel: {show: true, margin: 6, formatter: fmtX, color: '#000',
      rich: {
        t: {fontSize: 7.5, fontWeight: 'bold', fontFamily: FONT, color: '#000', lineHeight: 9, align: 'center'},
        d: {fontSize: 10.5, fontWeight: 'bold', fontFamily: FONT, color: '#000', lineHeight: 11, align: 'center'}
      }}
  });
  xAxis.push({
    gridIndex: k, type: 'value', min: 0, max: 240, position: 'top',
    axisLine: {show: true, onZero: false, lineStyle: {color: '#555', width: 2}},
    axisTick: {show: false}, axisLabel: {show: false}, splitLine: {show: false}
  });
  const yCommon = {
    gridIndex: k, type: 'value', min: p.min, max: p.max, interval: 5,
    axisLine: {show: true, onZero: false, lineStyle: {color: '#000', width: 1}},
    axisTick: {show: true, length: 5, lineStyle: {color: '#000'}},
    minorTick: {show: true, splitNumber: 5, length: 2.5, lineStyle: {color: '#000'}},
    splitLine: {show: false}, minorSplitLine: {show: false},
    name: p.unit, nameLocation: 'middle', nameMoveOverlap: false
  };
  yAxis.push(Object.assign({}, yCommon, {
    position: 'left', nameGap: 21.5, nameRotate: 90,
    nameTextStyle: {fontSize: 11, fontWeight: 'bold', fontFamily: FONT, color: '#000', padding: [0, 10, 0, 0]},
    axisLabel: {margin: 11, color: '#000', fontSize: 8, fontWeight: 'bold', fontFamily: FONT}
  }));
  yAxis.push(Object.assign({}, yCommon, {
    position: 'right', nameGap: 22.5, nameRotate: -90,
    nameTextStyle: {fontSize: 11, fontWeight: 'bold', fontFamily: FONT, color: '#000', padding: [0, 0, 0, 10]},
    axisLabel: {margin: 8, color: '#000', fontSize: 8, fontWeight: 'bold', fontFamily: FONT}
  }));

  p.members.forEach((m, j) => {
    const s = {
      type: 'line', name: 'Lid', xAxisIndex: 2 * k, yAxisIndex: 2 * k, data: toPairs(m),
      symbol: 'none', silent: true, z: 2, lineStyle: {color: C_MEMBER, width: 1},
      emphasis: {disabled: true}
    };
    if (p.min < 0 && j === 0) {
      s.markLine = {silent: true, symbol: 'none', label: {show: false},
        lineStyle: {color: '#666', width: 1, type: 'solid'}, data: [{yAxis: 0}]};
    }
    series.push(s);
  });
  series.push({type: 'line', name: LEGEND_NAMES[0], xAxisIndex: 2 * k, yAxisIndex: 2 * k, data: toPairs(p.ens),
    symbol: 'none', z: 3, lineStyle: {color: C_ENS, width: 3, type: [3, 2]}, emphasis: {disabled: true}});
  series.push({type: 'line', name: LEGEND_NAMES[1], xAxisIndex: 2 * k, yAxisIndex: 2 * k, data: toPairs(p.ctl),
    symbol: 'none', z: 4, lineStyle: {color: C_CTL, width: 3, type: [3, 2]}, emphasis: {disabled: true}});
  series.push({type: 'line', name: LEGEND_NAMES[2], xAxisIndex: 2 * k, yAxisIndex: 2 * k, data: toPairs(p.oper),
    symbol: 'none', z: 5, lineStyle: {color: C_OPER, width: 2.5}, emphasis: {disabled: true}});

  legend.push({
    left: 45, top: y0 + 32.3, orient: 'vertical', selectedMode: false,
    backgroundColor: '#fff', shadowColor: 'rgba(0,0,0,0.22)', shadowOffsetX: 2, shadowOffsetY: 2, shadowBlur: 0,
    padding: [6, 8, 5, 5], itemWidth: 15, itemHeight: 9, itemGap: 0,
    itemStyle: {opacity: 0},
    data: [
      {name: LEGEND_NAMES[0], lineStyle: {color: C_ENS, width: 1, type: [2, 2]}},
      {name: LEGEND_NAMES[1], lineStyle: {color: C_CTL, width: 1, type: [2, 2]}},
      {name: LEGEND_NAMES[2], lineStyle: {color: C_OPER, width: 1.5, type: 'solid'}}
    ],
    formatter: n => '{c|' + n + '}',
    textStyle: {rich: {c: {width: 36, align: 'center', fontSize: 8.5, fontWeight: 'bold', color: '#0000ff', fontFamily: FONT, lineHeight: 9}}}
  });

  graphic.push({type: 'rect', silent: true, z: 100,
    shape: {x: 1.5, y: y0 + 1.5, width: 520, height: 252},
    style: {fill: 'none', stroke: C_FRAME, lineWidth: 2.5}});
  const txt = (text, x, y, font, fill, align) => ({type: 'text', silent: true, z: 100,
    style: {text, x, y, font, fill, align: align, textAlign: align, verticalAlign: 'middle', textVerticalAlign: 'middle'}});
  graphic.push(txt(TITLE, 258.5, y0 + 15, 'bold 12px ' + FONT, '#000', 'center'));
  graphic.push(txt(STATION, 413, y0 + 41, 'bold 12px ' + FONT, '#000', 'center'));
  graphic.push(txt(p.label, 416, y0 + 53.5, 'bold 12px ' + FONT, '#000', 'center'));
  graphic.push(txt(X_NAME, 254, y0 + 245, 'bold 13px ' + FONT, '#000', 'center'));
  graphic.push(txt(SOURCE, 504, y0 + 248.5, 'bold 7.5px ' + FONT, '#0000ff', 'right'));
});

const chart = echarts.init(document.getElementById('c'), null, {renderer: 'canvas'});
chart.setOption({
  animation: false, backgroundColor: '#fff',
  grid, xAxis, yAxis, series, legend, graphic
});
</script>
</body></html>
